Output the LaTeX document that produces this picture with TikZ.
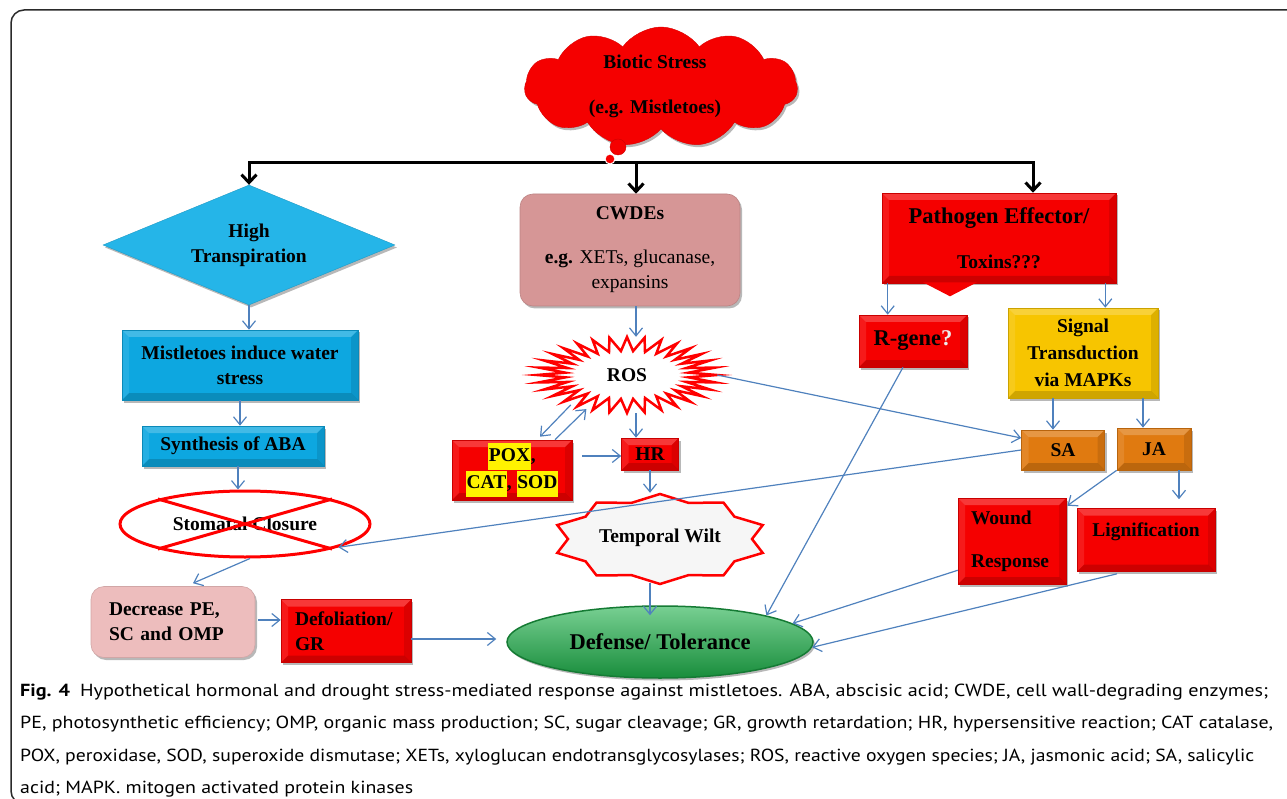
\documentclass[tikz,border=0pt]{standalone}
\usepackage{fontspec}
\setmainfont{Liberation Serif}
\newfontfamily\capfont{PT Sans}
\usepackage{graphicx}
\usetikzlibrary{shapes.geometric,shapes.symbols,arrows.meta,calc,shadows}
\definecolor{cyanA}{HTML}{25B5E8}
\definecolor{cyanB}{HTML}{0DA7E0}
\definecolor{rose}{HTML}{D69696}
\definecolor{pinkL}{HTML}{EDBDBD}
\definecolor{redB}{HTML}{F50000}
\definecolor{gold}{HTML}{F7C500}
\definecolor{orng}{HTML}{E07A10}
\definecolor{grn}{HTML}{1EB04A}
\definecolor{arrblue}{HTML}{4F81BD}
\definecolor{framec}{HTML}{2A2A2A}
\definecolor{qgrey}{HTML}{EDEDED}
\newcommand{\hly}[1]{{\setlength{\fboxsep}{0.6pt}\colorbox{yellow}{\strut #1}}}
\newcommand{\capf}{\capfont\fontsize{17.5}{21}\selectfont}
\begin{document}
\begin{tikzpicture}[x=1pt,y=-1pt,
  t/.style={font=\bfseries\fontsize{19.5}{25}\selectfont, align=center, text=black},
  tb/.style={font=\bfseries\fontsize{22.5}{27}\selectfont, align=center, text=black},
  shd/.style={drop shadow={shadow xshift=2pt, shadow yshift=-2.5pt, opacity=0.28, fill=black}},
  bevel/.style={path picture={
    \path (path picture bounding box.north west) coordinate (bnw)
          (path picture bounding box.north east) coordinate (bne)
          (path picture bounding box.south west) coordinate (bsw)
          (path picture bounding box.south east) coordinate (bse);
    \fill[white,opacity=0.22] (bnw) -- (bne) -- ([shift={(-7pt,-7pt)}]bne) -- ([shift={(7pt,-7pt)}]bnw) -- cycle;
    \fill[white,opacity=0.10] (bnw) -- (bsw) -- ([shift={(7pt,7pt)}]bsw) -- ([shift={(7pt,-7pt)}]bnw) -- cycle;
    \fill[black,opacity=0.10] (bne) -- (bse) -- ([shift={(-7pt,7pt)}]bse) -- ([shift={(-7pt,-7pt)}]bne) -- cycle;
    \fill[black,opacity=0.16] (bsw) -- (bse) -- ([shift={(-7pt,7pt)}]bse) -- ([shift={(7pt,7pt)}]bsw) -- cycle;}},
  box/.style={rectangle, inner sep=0pt, fill=#1, draw=#1!82!black, line width=0.6pt, shd, bevel, t},
  rbox/.style={rectangle, rounded corners=13pt, inner sep=0pt, fill=#1, draw=#1!88!black, line width=0.6pt, shd, t},
  barr/.style={draw=arrblue, line width=1.2pt, -{Straight Barb[length=8pt,width=13pt,line width=1.2pt]}},
  blk/.style={draw=black, line width=3pt, -{Straight Barb[length=8pt,width=15pt,line width=3pt]}}
]
\useasboundingbox (0,0) rectangle (1287,799);
\begin{scope}
  \clip (0,0) rectangle (1287,799);
  \draw[framec, line width=1.5pt, rounded corners=13pt] (11,10) rectangle (1305,804);
\end{scope}

% ---------- cloud ----------
\node[cloud, cloud puffs=11, cloud puff arc=110, aspect=2.3, fill=redB, draw=red!85!black,
      minimum width=273pt, minimum height=120pt, inner sep=0pt, shd] (cloud) at (661,87) {};
\node[t] (cloudtxt) at (655,86) {Biotic Stress\\[20pt](e.g. Mistletoes)};

% ---------- bus ----------
\coordinate (busL) at (249,163);
\coordinate (busM) at (636,163);
\coordinate (busR) at (1033,163);
\draw[line width=3pt, line cap=rect] (busL) -- (busR);
\node[circle, fill=redB, draw=red!80!black, minimum size=16pt, inner sep=0pt] (bub1) at (618,147) {};
\node[circle, fill=redB, draw=white, line width=1pt, minimum size=10pt, inner sep=0pt] (bub2) at (610,159) {};

% ---------- left column ----------
\node[diamond, aspect=2.4, fill=cyanA, draw=cyanA!85!black, minimum width=292pt, minimum height=120pt,
      inner sep=0pt, shd, t] (trans) at (249,245) {High\\Transpiration};
\node[box=cyanB, minimum width=236pt, minimum height=70pt] (water) at (240,365) {Mistletoes induce water\\stress};
\node[box=cyanB, minimum width=182pt, minimum height=40pt] (aba) at (233,446) {Synthesis of ABA};
\node[ellipse, draw=red, line width=3pt, minimum width=250pt, minimum height=66pt, inner sep=0pt, t] (stom) at (245,524) {Stomatal Closure};
\draw[red, line width=3pt] (stom.164) -- (stom.344);
\draw[red, line width=3pt] (stom.196) -- (stom.16);
\node[rbox=pinkL, minimum width=164pt, minimum height=71pt, text width=128pt, align=left] (dec) at (173,622) {Decrease PE,\\SC and OMP};
\node[box=redB, minimum width=130pt, minimum height=63pt, text width=102pt, align=left] (defo) at (346,631) {Defoliation/\\GR};

% ---------- middle column ----------
\node[rbox=rose, minimum width=220pt, minimum height=112pt] (cwde) at (630,250)
  {CWDEs\\[19pt]\textbf{e.g.} {\mdseries XETs, glucanase,}\\{\mdseries expansins}};
\draw[draw=red, line width=2.5pt, fill=white, line join=miter, miter limit=20]
  plot[samples at={0,...,63}, variable=\i]
  ({627+(76+14*cos(180*\i))*cos(5.625*\i)},{375+(31+7*cos(180*\i))*sin(5.625*\i)}) -- cycle;
\node[ellipse, minimum width=180pt, minimum height=76pt, inner sep=0pt, t] (ros) at (627,375) {ROS};
\node[box=redB, minimum width=120pt, minimum height=60pt] (pox) at (512,470) {\hly{POX},\\\hly{CAT}, \hly{SOD}};
\node[box=redB, minimum width=57pt, minimum height=32pt] (hr) at (650,454) {HR};
\draw[draw=red, line width=2.5pt, fill=gray!7, line join=miter]
  plot[samples at={0,...,19}, variable=\i]
  ({660+(100+8*cos(180*\i))*cos(90+18*\i)},{539+(41.5+3.5*cos(180*\i))*sin(90+18*\i)}) -- cycle;
\node[ellipse, minimum width=216pt, minimum height=90pt, inner sep=0pt, t] (wilt) at (660,538) {Temporal Wilt};
\node[ellipse, top color=grn!60!white, middle color=grn, bottom color=grn!80!black, draw=grn!70!black, line width=1.5pt,
      minimum width=306pt, minimum height=72pt, inner sep=0pt, tb, shd] (def) at (660,642) {Defense/ Tolerance};

% ---------- right column ----------
\node[box=redB, minimum width=234pt, minimum height=90pt] (pe) at (999,238)
  {{\fontsize{22.5}{27}\selectfont Pathogen Effector/}\\[20pt]Toxins???};
\fill[redB] ($(pe.south)+(-76,-1)$) -- ($(pe.south)+(-49,13)$) -- ($(pe.south)+(-22,-1)$) -- cycle;
\node[box=redB, minimum width=108pt, minimum height=52pt, tb] (rgene) at (913,341) {R-gene\textcolor{qgrey}{?}};
\node[box=gold, minimum width=150pt, minimum height=90pt, font=\bfseries\fontsize{19.5}{27}\selectfont] (sig) at (1083,353) {Signal\\Transduction\\via MAPKs};
\node[box=orng, minimum width=83pt, minimum height=40pt] (sa) at (1063,450) {SA};
\node[box=orng, minimum width=74pt, minimum height=42pt] (ja) at (1154,449) {JA};
\node[box=redB, minimum width=108pt, minimum height=86pt, text width=82pt, align=left] (wound) at (1012,541) {Wound\\[18pt]Response};
\node[box=redB, minimum width=138pt, minimum height=63pt, text height=14pt, text depth=22pt] (lig) at (1146,540) {Lignification};

% ---------- black arrows ----------
\draw[blk] (busL) -- (trans.north);
\draw[blk] (busM) -- (busM |- cwde.north);
\draw[blk] (busR) -- (busR |- pe.north);

% ---------- blue arrows ----------
\draw[barr] (trans.south) -- (trans.south |- water.north);
\draw[barr] (water.south) -- (water.south |- aba.north);
\coordinate (abaout) at ($(aba.south)+(5,0)$);
\draw[barr] (abaout) -- (abaout |- stom.north);
\draw[barr] ($(stom.south)+(5,0)$) -- ($(dec.north)+(20,-3)$);
\draw[barr] ($(dec.east)+(3,-2)$) -- ($(defo.west |- dec.east)+(0,-2)$);
\draw[barr] ($(defo.east)+(0,8)$) -- ($(def.west)+(-10,-3)$);

\draw[barr] (cwde.south -| busM) -- (ros.north -| busM);
\draw[barr] (ros.south -| busM) -- (hr.north -| busM);
\draw[barr] (ros.208) -- ($(pox.north)+(28,-3)$);
\draw[barr] ($(pox.north)+(43,0)$) -- (ros.220);
\draw[barr] ($(pox.east |- hr.west)+(10,2)$) -- ($(hr.west)+(0,2)$);
\draw[barr] (hr.south) -- (hr.south |- wilt.north);
\draw[barr] (wilt.south -| hr.south) -- ($(def.north -| hr.south)+(0,10)$);

\coordinate (peL) at ($(pe.south west)+(6,0)$);
\coordinate (peR) at ($(pe.south east)+(-11,0)$);
\draw[barr] (peL) -- (peL |- rgene.north);
\draw[barr] (peR) -- (peR |- sig.north);
\coordinate (saIn) at ($(sa.north)+(-10,0)$);
\coordinate (jaIn) at ($(ja.north)+(-11,0)$);
\draw[barr] (saIn |- sig.south) -- (saIn);
\draw[barr] (jaIn |- sig.south) -- (jaIn);
\draw[barr] (ros.east) -- ($(sa.west)+(0,-12)$);
\draw[barr] (sa.west) -- (stom.346);
\draw[barr] (ja.south west) -- ($(wound.north east)+(1,8)$);
\coordinate (ligIn) at ($(lig.north)+(33,-9)$);
\draw[barr] (ligIn |- ja.south) -- (ligIn);
\draw[barr] ($(rgene.south)+(-10,0)$) -- (def.14);
\draw[barr] ($(wound.south west)+(0,-14)$) -- (def.8);
\draw[barr] ($(lig.south)+(-29,2)$) -- (def.358);

% ---------- caption ----------
\node[anchor=base west, inner sep=0pt] (cap1) at (20,696) {\resizebox{1248pt}{\height}{\capf\textbf{Fig. 4}\enspace Hypothetical hormonal and drought stress-mediated response against mistletoes. ABA, abscisic acid; CWDE, cell wall-degrading enzymes;}};
\node[anchor=base west, inner sep=0pt] (cap2) at (20,728) {\resizebox{1253pt}{\height}{\capf PE, photosynthetic efficiency; OMP, organic mass production; SC, sugar cleavage; GR, growth retardation; HR, hypersensitive reaction; CAT catalase,}};
\node[anchor=base west, inner sep=0pt] (cap3) at (20,761) {\resizebox{1234pt}{\height}{\capf POX, peroxidase, SOD, superoxide dismutase; XETs, xyloglucan endotransglycosylases; ROS, reactive oxygen species; JA, jasmonic acid; SA, salicylic}};
\node[anchor=base west, inner sep=0pt] (cap4) at (20,793) {\resizebox{393pt}{\height}{\capf acid; MAPK. mitogen activated protein kinases}};
\end{tikzpicture}
\end{document}
